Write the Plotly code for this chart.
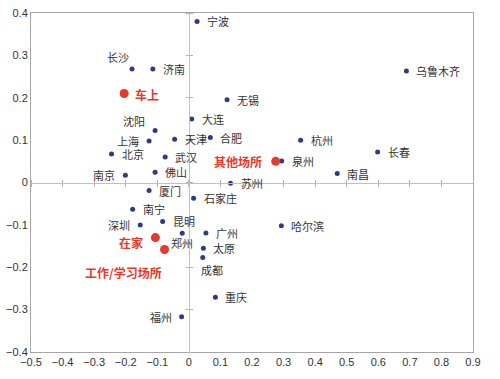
import plotly.graph_objects as go

# ---------------- data ----------------
cities = ["宁波", "长沙", "济南", "无锡", "大连", "沈阳", "上海", "天津", "合肥", "北京",
          "武汉", "南京", "佛山", "苏州", "乌鲁木齐", "杭州", "长春", "泉州", "南昌", "厦门",
          "石家庄", "南宁", "深圳", "昆明", "郑州", "广州", "太原", "成都", "重庆", "福州", "哈尔滨"]
city_x = [0.026, -0.180, -0.114, 0.121, 0.009, -0.107, -0.126, -0.045, 0.068, -0.245,
          -0.075, -0.201, -0.107, 0.132, 0.689, 0.354, 0.598, 0.294, 0.470, -0.126,
          0.015, -0.178, -0.154, -0.083, -0.021, 0.054, 0.046, 0.044, 0.084, -0.023, 0.293]
city_y = [0.380, 0.268, 0.268, 0.195, 0.150, 0.123, 0.098, 0.102, 0.106, 0.067,
          0.060, 0.017, 0.024, -0.002, 0.263, 0.100, 0.072, 0.051, 0.021, -0.019,
          -0.037, -0.063, -0.100, -0.092, -0.120, -0.119, -0.155, -0.177, -0.271, -0.317, -0.102]

places = ["车上", "其他场所", "在家", "工作/学习场所"]
place_x = [-0.205, 0.275, -0.106, -0.077]
place_y = [0.210, 0.050, -0.130, -0.158]

x_ticks = [-0.5, -0.4, -0.3, -0.2, -0.1, 0, 0.1, 0.2, 0.3, 0.4, 0.5, 0.6, 0.7, 0.8, 0.9]
y_ticks = [-0.4, -0.3, -0.2, -0.1, 0, 0.1, 0.2, 0.3, 0.4]
x_range = [-0.5, 0.9]
y_range = [-0.4, 0.4]

# ---------------- label placement (style) ----------------
# (xanchor, xshift px, yshift px)
PLACE = {
    "r": ("left", 8, 0),
    "l": ("right", -8, 0),
    "tl_changsha": ("right", -1, 12),
    "tl_shenyang": ("right", -8, 9),
    "b": ("center", 0, -10),
    "br": ("left", -4, -12),
}
city_place = ["r", "tl_changsha", "r", "r", "r", "tl_shenyang", "l", "r", "r", "r",
              "r", "l", "r", "r", "r", "r", "r", "r", "r", "r",
              "r", "r", "l", "r", "b", "r", "r", "br", "r", "l", "r"]
place_place = [("left", 9, -1), ("right", -12, 0), ("right", -10, -5), ("right", -1, -23)]

tick_font = dict(family="Liberation Sans, Arial, sans-serif", size=11, color="#333333")
cjk = "Noto Sans CJK SC, sans-serif"

fig = go.Figure()
fig.add_trace(go.Scatter(
    x=city_x, y=city_y, mode="markers", text=cities,
    marker=dict(size=5, color="#2f3a86"),
    cliponaxis=False, showlegend=False, hoverinfo="text"))
fig.add_trace(go.Scatter(
    x=place_x, y=place_y, mode="markers", text=places,
    marker=dict(size=9, color="#e33a2b"),
    cliponaxis=False, showlegend=False, hoverinfo="text"))

annotations = []
for name, x, y, p in zip(cities, city_x, city_y, city_place):
    xa, xs, ys = PLACE[p]
    annotations.append(dict(x=x, y=y, text=name, showarrow=False, xanchor=xa, yanchor="middle",
                            xshift=xs, yshift=ys,
                            font=dict(family=cjk, size=11, color="#333333")))
for name, x, y, (xa, xs, ys) in zip(places, place_x, place_y, place_place):
    annotations.append(dict(x=x, y=y, text="<b>%s</b>" % name, showarrow=False, xanchor=xa,
                            yanchor="middle", xshift=xs, yshift=ys,
                            font=dict(family=cjk, size=12, color="#e33a2b")))

# invisible traces so the zero-line tick axes are drawn
for xa, ya in (("x2", "y2"), ("x3", "y3")):
    fig.add_trace(go.Scatter(x=city_x, y=city_y, xaxis=xa, yaxis=ya, mode="markers",
                             marker=dict(opacity=0), showlegend=False, hoverinfo="skip"))

xfrac = (0 - x_range[0]) / (x_range[1] - x_range[0])
yfrac = (0 - y_range[0]) / (y_range[1] - y_range[0])


def fmt(v):
    return ("%g" % v).replace("-", "−")


common = dict(showgrid=False, zeroline=False, automargin=False)
zero_ax = dict(showticklabels=False, ticks="outside", ticklen=3, tickcolor="#b0b0b0", **common)
fig.update_layout(
    width=500, height=379,
    margin=dict(l=31, r=27, t=13, b=27, autoexpand=False),
    paper_bgcolor="white", plot_bgcolor="white",
    annotations=annotations,
    xaxis=dict(range=x_range, tickvals=x_ticks, ticktext=[fmt(v) for v in x_ticks],
               showline=True, mirror=True, linecolor="#a6a6a6", linewidth=1,
               ticks="", tickfont=tick_font, **common),
    yaxis=dict(range=y_range, tickvals=y_ticks, ticktext=[fmt(v) for v in y_ticks],
               showline=True, mirror=True, linecolor="#a6a6a6", linewidth=1,
               ticks="", tickfont=tick_font, **common),
    xaxis2=dict(range=x_range, overlaying="x", anchor="free", position=yfrac, side="bottom",
                tickvals=x_ticks, showline=True, linecolor="#c0c0c0", linewidth=1, **zero_ax),
    xaxis3=dict(range=x_range, overlaying="x", anchor="free", position=yfrac, side="top",
                tickvals=x_ticks, showline=False, **zero_ax),
    yaxis2=dict(range=y_range, overlaying="y", anchor="free", position=xfrac, side="left",
                tickvals=y_ticks, showline=True, linecolor="#c0c0c0", linewidth=1, **zero_ax),
    yaxis3=dict(range=y_range, overlaying="y", anchor="free", position=xfrac, side="right",
                tickvals=y_ticks, showline=False, **zero_ax),
)

# remove the default 8px page margin so the figure sits at the window's top-left corner
fig.write_html("out.html", config={"displayModeBar": False},
               post_script="document.body.style.margin='0';")
